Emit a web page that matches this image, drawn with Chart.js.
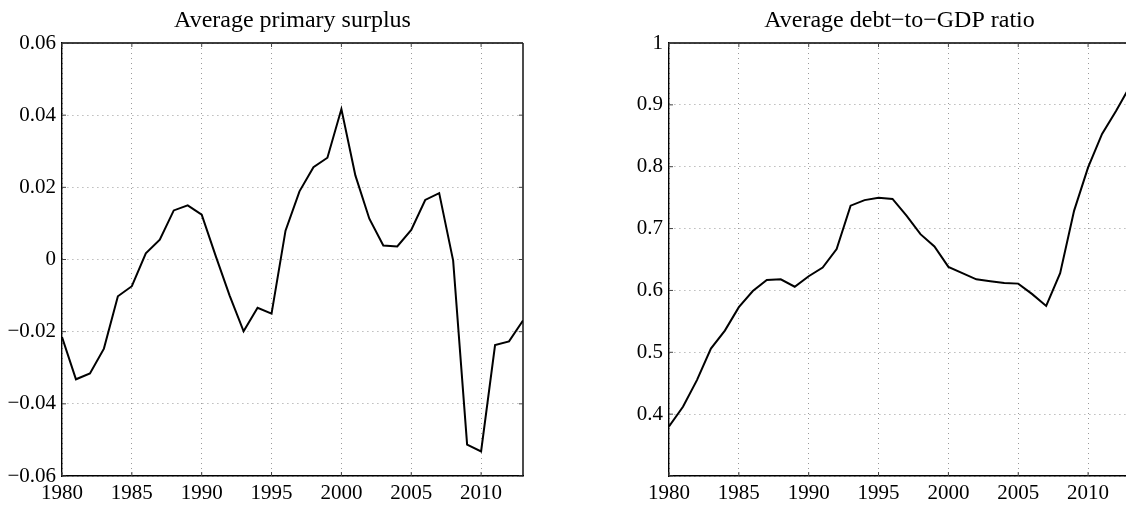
<!DOCTYPE html>
<html>
<head>
<meta charset="utf-8">
<script src="https://cdn.jsdelivr.net/npm/chart.js@4/dist/chart.umd.min.js"></script>
<style>
  html, body { margin: 0; padding: 0; background: #fff; }
  body { width: 1126px; height: 505px; overflow: hidden; position: relative; }
  canvas { position: absolute; top: 0; }
  #c1 { left: 0; }
  #c2 { left: 600px; }
</style>
</head>
<body>
<canvas id="c1" width="535" height="505"></canvas>
<canvas id="c2" width="540" height="505"></canvas>
<script>
const years = [1980,1981,1982,1983,1984,1985,1986,1987,1988,1989,1990,1991,1992,1993,1994,1995,1996,1997,1998,1999,2000,2001,2002,2003,2004,2005,2006,2007,2008,2009,2010,2011,2012,2013];
const surplus = [-0.0215,-0.0332,-0.0316,-0.0247,-0.0102,-0.0074,0.0017,0.0055,0.0136,0.0150,0.0124,0.0010,-0.0100,-0.0199,-0.0134,-0.0150,0.0080,0.0189,0.0256,0.0282,0.0417,0.0233,0.0113,0.0039,0.0036,0.0082,0.0165,0.0184,-0.0003,-0.0513,-0.0532,-0.0237,-0.0227,-0.0169];
const debt = [0.380,0.412,0.455,0.506,0.535,0.573,0.599,0.617,0.618,0.606,0.623,0.637,0.667,0.737,0.746,0.750,0.748,0.721,0.691,0.671,0.638,0.628,0.618,0.615,0.612,0.611,0.594,0.575,0.628,0.729,0.799,0.853,0.890,0.930];
const titles = ['Average primary surplus', 'Average debt\u2212to\u2212GDP ratio'];
const xTickStep = 5;

const FONT = "'Liberation Serif', 'Times New Roman', serif";

function fmtY(v) {
  const n = parseFloat(Number(v).toFixed(3));
  if (n === 0) return '0';
  return String(n).replace('-', '\u2212');
}

const boxPlugin = {
  id: 'boxTicks',
  afterDraw(chart) {
    const {ctx, chartArea: a, scales} = chart;
    ctx.save();
    ctx.strokeStyle = '#000';
    ctx.lineWidth = 1.4;
    ctx.beginPath();
    ctx.moveTo(a.left, a.top); ctx.lineTo(a.right, a.top);
    ctx.moveTo(a.right, a.top); ctx.lineTo(a.right, a.bottom);
    ctx.stroke();
    ctx.lineWidth = 1;
    ctx.strokeStyle = '#444';
    ctx.beginPath();
    const L = 4;
    scales.x.ticks.forEach(t => {
      const px = scales.x.getPixelForValue(t.value);
      ctx.moveTo(px, a.bottom); ctx.lineTo(px, a.bottom - L);
      ctx.moveTo(px, a.top); ctx.lineTo(px, a.top + L);
    });
    scales.y.ticks.forEach(t => {
      const py = scales.y.getPixelForValue(t.value);
      ctx.moveTo(a.left, py); ctx.lineTo(a.left + L, py);
      ctx.moveTo(a.right, py); ctx.lineTo(a.right - L, py);
    });
    ctx.stroke();
    ctx.restore();
  }
};

function makeChart(id, title, values, yMin, yMax, yStep, yWidth, padRight, hideMinLabel) {
  const pts = years.map((y, i) => ({x: y, y: values[i]}));
  return new Chart(document.getElementById(id), {
    type: 'line',
    data: { datasets: [{ data: pts, borderColor: '#000', borderWidth: 2, pointRadius: 0, tension: 0, fill: false }] },
    options: {
      responsive: false,
      animation: false,
      devicePixelRatio: 1,
      layout: { padding: { left: 0, right: padRight, top: 0, bottom: 0 } },
      plugins: {
        legend: { display: false },
        tooltip: { enabled: false },
        title: {
          display: true, text: title, fullSize: false, color: '#000',
          font: { family: FONT, size: 24, weight: 'normal' },
          padding: { top: 6, bottom: 8.2 }
        }
      },
      scales: {
        x: {
          type: 'linear', min: years[0], max: years[years.length - 1],
          ticks: {
            stepSize: xTickStep, includeBounds: false, color: '#000', padding: 5, maxRotation: 0,
            font: { family: FONT, size: 21 },
            callback: v => String(v)
          },
          grid: { color: '#9a9a9a', lineWidth: 1, drawTicks: false },
          border: { display: true, color: '#000', width: 1.4, dash: [1, 4] },
          afterFit: s => { s.height = 29; }
        },
        y: {
          min: yMin, max: yMax,
          ticks: {
            stepSize: yStep, color: '#000', padding: 6,
            font: { family: FONT, size: 21 },
            callback: v => (hideMinLabel && Math.abs(v - yMin) < 1e-9) ? '' : fmtY(v)
          },
          grid: { color: '#9a9a9a', lineWidth: 1, drawTicks: false },
          border: { display: true, color: '#000', width: 1.4, dash: [1, 4] },
          afterFit: s => { s.width = yWidth; }
        }
      }
    },
    plugins: [boxPlugin]
  });
}

makeChart('c1', titles[0], surplus, -0.06, 0.06, 0.02, 62, 12, false);
makeChart('c2', titles[1], debt, 0.3, 1, 0.1, 69, 10, true);
</script>
</body>
</html>
